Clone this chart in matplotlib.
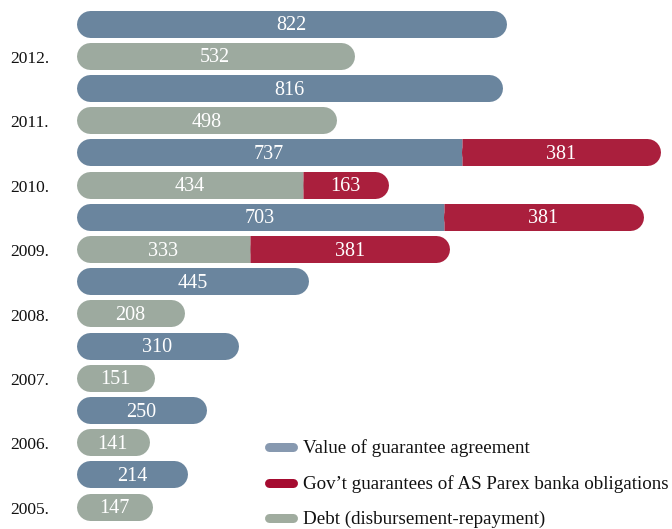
import matplotlib
matplotlib.use("Agg")
import matplotlib.pyplot as plt

years = ["2012.", "2011.", "2010.", "2009.", "2008.", "2007.", "2006.", "2005."]
agreement = [822, 816, 737, 703, 445, 310, 250, 214]
agreement_gov = [0, 0, 381, 381, 0, 0, 0, 0]
debt = [532, 498, 434, 333, 208, 151, 141, 147]
debt_gov = [0, 0, 163, 381, 0, 0, 0, 0]
legend_labels = ["Value of guarantee agreement",
                 "Gov\u2019t guarantees of AS Parex banka obligations",
                 "Debt (disbursement-repayment)"]

C_BLUE = "#6A859E"
C_RED = "#AA1F3D"
C_GREY = "#9DAA9F"
LEG_COLS = ["#8799B0", "#A50B30", "#A0AC9F"]

W, H, DPI = 672, 529, 100
fig = plt.figure(figsize=(W / DPI, H / DPI), dpi=DPI)
ax = fig.add_axes([0, 0, 1, 1])
ax.set_axis_off()

x0_px = 76
k = 430 / 822  # px per unit
row0 = 23.5
row_step = 32.2
ax.set_xlim(-x0_px / k, (W - x0_px) / k)
ax.set_ylim((H - row0) / row_step, -row0 / row_step)

bar_px = 27
lw_pt = bar_px * 72 / DPI
r_units = (bar_px / 2) / k
FONT = "Liberation Serif"
VAL_FS = 14.5
val_off = (0.66 * VAL_FS * DPI / 72) / 2 / row_step
YR_FS = 12.5
yr_off = (0.66 * YR_FS * DPI / 72) / 2 / row_step


def line(xs, y, col, cap):
    ax.plot(xs, [y, y], color=col, lw=lw_pt, solid_capstyle=cap, zorder=3)


def draw_bar(y, segs):
    total = sum(v for v, _ in segs)
    if len(segs) == 1:
        line([r_units, total - r_units], y, segs[0][1], "round")
    else:
        (v0, c0), (v1, c1) = segs
        line([r_units, v0 - r_units], y, c0, "round")
        line([v0 / 2, v0], y, c0, "butt")
        line([v0 + r_units, total - r_units], y, c1, "round")
        line([v0, total - r_units], y, c1, "butt")
    start = 0
    for v, c in segs:
        ax.text(start + v / 2, y + val_off, str(v), color="white",
                ha="center", va="baseline", fontsize=VAL_FS, family=FONT,
                zorder=5)
        start += v


for i, yr in enumerate(years):
    ya = 2 * i
    yd = 2 * i + 1
    segs_a = [(agreement[i], C_BLUE)]
    if agreement_gov[i]:
        segs_a.append((agreement_gov[i], C_RED))
    segs_d = [(debt[i], C_GREY)]
    if debt_gov[i]:
        segs_d.append((debt_gov[i], C_RED))
    draw_bar(ya, segs_a)
    draw_bar(yd, segs_d)
    ax.text(-x0_px / k + 10 / k, yd + yr_off + 0.05, yr, ha="left",
            va="baseline", fontsize=YR_FS, family=FONT, color="#111111")

# legend
leg_y = [447, 483, 518]
for lab, col, ypx in zip(legend_labels, LEG_COLS, leg_y):
    yf = 1 - ypx / H
    ax.plot([268.5 / W, 292.5 / W], [yf, yf], transform=ax.transAxes,
            color=col, lw=9 * 72 / DPI, solid_capstyle="round", zorder=4)
    ax.text(303 / W, yf - 6 / H, lab, transform=ax.transAxes, ha="left",
            va="baseline", fontsize=13.7, family=FONT, color="#111111")

fig.savefig("out.png", dpi=DPI)
